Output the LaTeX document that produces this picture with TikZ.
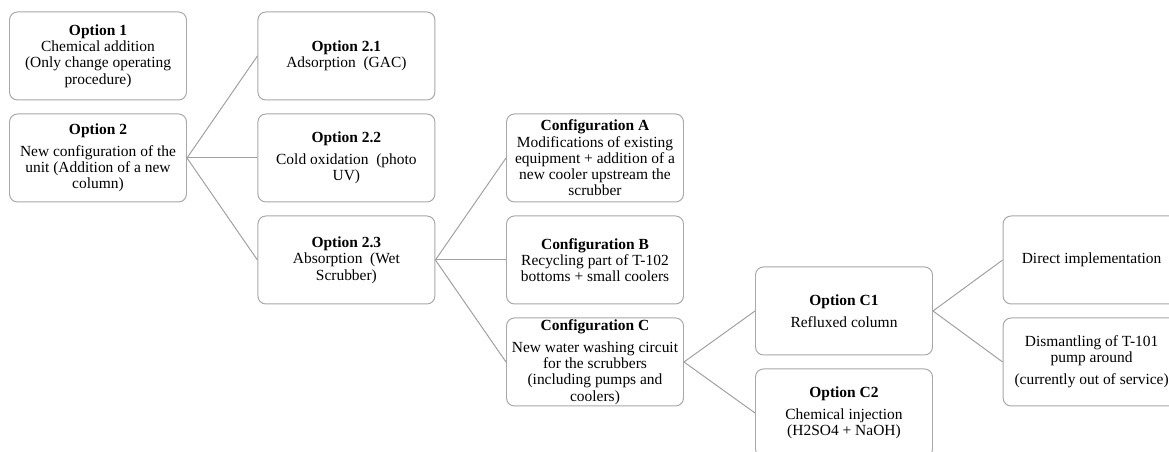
\documentclass[tikz,border=0pt]{standalone}
\usepackage{fontspec}
\setmainfont{Liberation Serif}
\usepackage{tikz}

\definecolor{boxgray}{HTML}{A8A8A8}
\definecolor{linegray}{HTML}{A0A0A0}

\tikzset{
  optbox/.style={draw=boxgray, line width=0.7pt, rounded corners=0.2cm, align=center,
    minimum width=4.425cm, minimum height=2.2cm, inner sep=1pt,
    font=\fontsize{11}{11.6}\selectfont},
  branch/.style={draw=linegray, line width=0.7pt}
}

\begin{document}
\begin{tikzpicture}
%\draw[step=1cm,gray,very thin] (0,0) grid (29,11);
\useasboundingbox (0,0) rectangle (29.225,11.3);
\clip (0,0) rectangle (29.225,11.3);

% first column
\node[optbox] (opt1) at (2.45,9.9) {\textbf{Option 1}\\ Chemical addition\\ (Only change operating\\ procedure)};
\node[optbox] (opt2) at (2.45,7.35) {\textbf{Option 2}\\[4pt] New configuration of the\\ unit (Addition of a new\\ column)};

% second column
\node[optbox] (opt21) at (8.66,9.9) {\textbf{Option 2.1}\\ Adsorption~ (GAC)};
\node[optbox] (opt22) at (8.66,7.35) {\textbf{Option 2.2}\\[4pt] Cold oxidation~ (photo\\ UV)};
\node[optbox] (opt23) at (8.66,4.8) {\textbf{Option 2.3}\\ Absorption~ (Wet\\ Scrubber)};

% third column
\node[optbox] (confA) at (14.875,7.35) {\textbf{Configuration A}\\ Modifications of existing\\ equipment + addition of a\\ new cooler upstream the\\ scrubber};
\node[optbox] (confB) at (14.875,4.8) {\textbf{Configuration B}\\ Recycling part of T-102\\ bottoms + small coolers};
\node[optbox] (confC) at (14.875,2.25) {\textbf{Configuration C}\\[4pt] New water washing circuit\\ for the scrubbers\\ (including pumps and\\ coolers)};

% fourth column
\node[optbox] (optC1) at (21.1,3.525) {\textbf{Option C1}\\[4pt] Refluxed column};
\node[optbox] (optC2) at (21.1,0.975) {\textbf{Option C2}\\[4pt] Chemical injection\\ (H2SO4 + NaOH)};

% fifth column
\node[optbox] (direct) at (27.29,4.8) {Direct implementation};
\node[optbox] (dism) at (27.29,2.25) {Dismantling of T-101\\ pump around\\[4pt] (currently out of service)};

\draw[branch] (opt2.east) -- (opt21.west);
\draw[branch] (opt2.east) -- (opt22.west);
\draw[branch] (opt2.east) -- (opt23.west);

\draw[branch] (opt23.east) -- (confA.west);
\draw[branch] (opt23.east) -- (confB.west);
\draw[branch] (opt23.east) -- (confC.west);

\draw[branch] (confC.east) -- (optC1.west);
\draw[branch] (confC.east) -- (optC2.west);

\draw[branch] (optC1.east) -- (direct.west);
\draw[branch] (optC1.east) -- (dism.west);

\end{tikzpicture}
\end{document}
